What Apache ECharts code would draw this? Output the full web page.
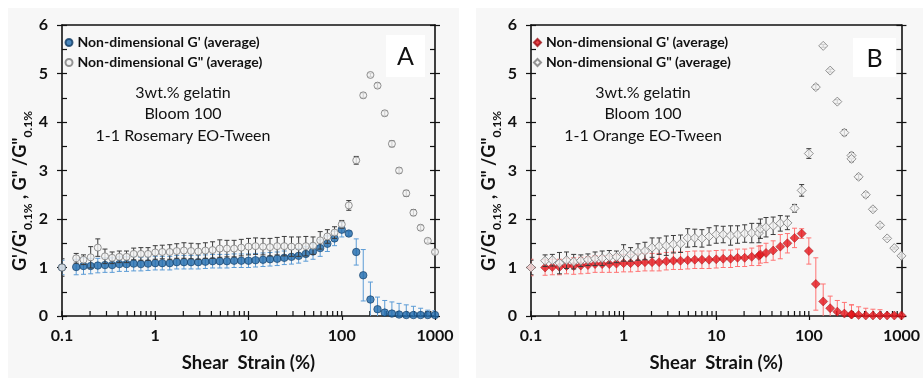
<!DOCTYPE html>
<html><head><meta charset="utf-8">
<script src="https://cdn.jsdelivr.net/npm/echarts@6/dist/echarts.min.js"></script>
<style>html,body{margin:0;padding:0;background:#fff}#c{width:923px;height:378px}</style>
</head><body><div id="c"></div>
<script>
// ---------- data ----------
const strainA = [0.1, 0.142, 0.170, 0.203, 0.242, 0.289, 0.345, 0.412, 0.492, 0.587, 0.701, 0.837, 1.0, 1.19, 1.43, 1.70, 2.03, 2.42, 2.89, 3.45, 4.12, 4.92, 5.87, 7.01, 8.37, 10, 11.9, 14.3, 17.0, 20.3, 24.2, 28.9, 34.5, 41.2, 49.2, 58.7, 70.1, 83.7, 100, 119, 143, 170, 203, 242, 289, 345, 412, 492, 587, 701, 837, 1000];
const gpA = [1.00, 1.01, 1.03, 1.03, 1.04, 1.05, 1.05, 1.07, 1.07, 1.08, 1.07, 1.08, 1.09, 1.09, 1.09, 1.11, 1.11, 1.11, 1.11, 1.12, 1.13, 1.13, 1.13, 1.14, 1.14, 1.14, 1.15, 1.16, 1.17, 1.18, 1.20, 1.22, 1.24, 1.28, 1.33, 1.40, 1.49, 1.60, 1.78, 1.70, 1.32, 0.84, 0.34, 0.14, 0.07, 0.05, 0.03, 0.02, 0.02, 0.02, 0.02, 0.02];
const gpAerr = [0.15, 0.16, 0.17, 0.16, 0.15, 0.15, 0.15, 0.15, 0.15, 0.15, 0.14, 0.14, 0.14, 0.14, 0.14, 0.14, 0.14, 0.14, 0.14, 0.14, 0.14, 0.14, 0.14, 0.14, 0.14, 0.14, 0.14, 0.14, 0.14, 0.14, 0.14, 0.15, 0.15, 0.15, 0.16, 0.17, 0.16, 0.15, 0.15, 0.05, 0.27, 0.53, 0.36, 0.25, 0.25, 0.24, 0.23, 0.21, 0.18, 0.14, 0.10, 0.09];
const gppA = [1.00, 1.19, 1.16, 1.21, 1.41, 1.23, 1.20, 1.22, 1.22, 1.28, 1.28, 1.28, 1.31, 1.32, 1.32, 1.34, 1.35, 1.34, 1.33, 1.35, 1.36, 1.39, 1.39, 1.39, 1.41, 1.43, 1.44, 1.43, 1.42, 1.44, 1.44, 1.43, 1.43, 1.44, 1.45, 1.56, 1.64, 1.72, 1.89, 2.28, 3.21, 4.55, 4.97, 4.75, 4.18, 3.55, 3.00, 2.53, 2.13, 1.82, 1.55, 1.32];
const gppAerr = [0.18, 0.10, 0.10, 0.22, 0.18, 0.15, 0.12, 0.12, 0.12, 0.12, 0.13, 0.13, 0.14, 0.14, 0.15, 0.15, 0.16, 0.16, 0.16, 0.16, 0.17, 0.18, 0.17, 0.17, 0.17, 0.17, 0.17, 0.17, 0.18, 0.18, 0.20, 0.20, 0.20, 0.20, 0.18, 0.18, 0.14, 0.12, 0.08, 0.10, 0.08, 0.05, 0.04, 0.05, 0.05, 0.06, 0.05, 0.06, 0.06, 0.05, 0.04, 0.03];

const strainB = [0.1, 0.142, 0.170, 0.203, 0.242, 0.289, 0.345, 0.412, 0.492, 0.587, 0.701, 0.837, 1.0, 1.19, 1.43, 1.70, 2.03, 2.42, 2.89, 3.45, 4.12, 4.92, 5.87, 7.01, 8.37, 10, 11.9, 14.3, 17.0, 20.3, 24.2, 28.9, 30.0, 34.5, 41.2, 49.2, 58.7, 70.1, 83.7, 100, 119, 143, 170, 203, 242, 289, 289, 345, 412, 492, 587, 701, 837, 1000];
const gpB = [1.00, 1.00, 1.01, 1.01, 1.03, 1.03, 1.04, 1.05, 1.07, 1.07, 1.07, 1.08, 1.09, 1.09, 1.10, 1.11, 1.11, 1.11, 1.13, 1.14, 1.14, 1.15, 1.16, 1.16, 1.16, 1.17, 1.18, 1.18, 1.20, 1.20, 1.22, 1.24, 1.27, 1.30, 1.35, 1.43, 1.50, 1.61, 1.70, 1.34, 0.66, 0.30, 0.16, 0.09, 0.05, 0.03, 0.03, 0.02, 0.01, 0.01, 0.01, 0.01, 0.01, 0.01];
const gpBerr = [0.17, 0.16, 0.16, 0.16, 0.16, 0.17, 0.17, 0.17, 0.17, 0.17, 0.17, 0.18, 0.18, 0.18, 0.18, 0.18, 0.18, 0.18, 0.18, 0.18, 0.18, 0.18, 0.18, 0.18, 0.18, 0.18, 0.18, 0.18, 0.18, 0.18, 0.18, 0.20, 0.18, 0.20, 0.20, 0.25, 0.20, 0.20, 0.10, 0.27, 0.54, 0.36, 0.25, 0.23, 0.23, 0.20, 0.20, 0.17, 0.15, 0.13, 0.12, 0.04, 0.03, 0.02];
const gppB = [1.00, 1.14, 1.15, 1.09, 1.15, 1.12, 1.14, 1.16, 1.18, 1.19, 1.22, 1.22, 1.30, 1.27, 1.32, 1.34, 1.41, 1.44, 1.45, 1.48, 1.49, 1.61, 1.61, 1.60, 1.64, 1.68, 1.68, 1.66, 1.68, 1.70, 1.71, 1.71, 1.80, 1.83, 1.86, 1.91, 1.92, 2.22, 2.59, 3.35, 4.72, 5.57, 5.06, 4.42, 3.78, 3.31, 3.24, 2.87, 2.50, 2.20, 1.87, 1.60, 1.40, 1.24];
const gppBerr = [0.15, 0.12, 0.12, 0.22, 0.17, 0.15, 0.12, 0.12, 0.14, 0.15, 0.13, 0.12, 0.17, 0.14, 0.17, 0.18, 0.20, 0.17, 0.20, 0.18, 0.18, 0.19, 0.18, 0.18, 0.18, 0.18, 0.17, 0.20, 0.18, 0.18, 0.20, 0.20, 0.20, 0.20, 0.18, 0.16, 0.14, 0.08, 0.12, 0.10, 0.05, 0.03, 0.03, 0.04, 0.06, 0.06, 0.06, 0.05, 0.05, 0.04, 0.04, 0.02, 0.02, 0.02];

const xTickLabels = ['0.1', '1', '10', '100', '1000'];
const xTickValues = [0.1,0.2,0.3,0.4,0.5,0.6,0.7,0.8,0.9,1,2,3,4,5,6,7,8,9,10,20,30,40,50,60,70,80,90,100,200,300,400,500,600,700,800,900,1000];
const legendLabels = ["Non-dimensional G' (average)", 'Non-dimensional G" (average)'];
const noteA = ['3wt.% gelatin', 'Bloom 100', '1-1 Rosemary EO-Tween'];
const noteB = ['3wt.% gelatin', 'Bloom 100', '1-1 Orange EO-Tween'];
const panelLetters = ['A', 'B'];
const xTitle = 'Shear  Strain (%)';

// ---------- chart ----------
const FONT = 'Lato, "Liberation Sans", sans-serif';
const chart = echarts.init(document.getElementById('c'));

function makeErr(color) {
  return function (params, api) {
    const x = api.value(0), y = api.value(1), e = api.value(2);
    const p1 = api.coord([x, y + e]), p2 = api.coord([x, y - e]);
    const h = 2.5, st = { stroke: color, lineWidth: 1 };
    return { type: 'group', children: [
      { type: 'line', shape: { x1: p1[0], y1: p1[1], x2: p2[0], y2: p2[1] }, style: st },
      { type: 'line', shape: { x1: p1[0] - h, y1: p1[1], x2: p1[0] + h, y2: p1[1] }, style: st },
      { type: 'line', shape: { x1: p2[0] - h, y1: p2[1], x2: p2[0] + h, y2: p2[1] }, style: st }
    ]};
  };
}
function tickRender(params, api) {
  const p = api.coord([api.value(0), 0]);
  return { type: 'line', shape: { x1: p[0], y1: p[1], x2: p[0], y2: p[1] - 5 },
    style: { stroke: '#111', lineWidth: 1.2 } };
}
const pts = (xs, ys) => xs.map((x, i) => [x, ys[i]]);
const errPts = (xs, ys, es) => xs.map((x, i) => [x, ys[i], es[i]]);

const grids = [
  { left: 62, top: 25, width: 373, height: 297 },
  { left: 531, top: 25, width: 375, height: 297 }
];
const axisLineStyle = { color: '#111', width: 1.6 };
const xAxes = [], yAxes = [];
grids.forEach((g, gi) => {
  xAxes.push({ gridIndex: gi, type: 'log', logBase: 10, min: 0.1, max: 1000, position: 'bottom',
    name: xTitle, nameLocation: 'middle', nameGap: 38,
    nameTextStyle: { fontFamily: FONT, fontWeight: 'bold', fontSize: 18.5, color: '#111' },
    axisLine: { onZero: false, lineStyle: axisLineStyle },
    axisTick: { show: true, inside: false, length: 4, lineStyle: { color: '#111', width: 1.2 } },
    axisLabel: { margin: 12, fontFamily: FONT, fontWeight: 'bold', fontSize: 16, color: '#111',
      formatter: (v, i) => xTickLabels[i] },
    splitLine: { show: false }, minorTick: { show: false } });
  xAxes.push({ gridIndex: gi, type: 'log', logBase: 10, min: 0.1, max: 1000, position: 'top',
    axisLine: { onZero: false, lineStyle: axisLineStyle }, axisTick: { show: false },
    axisLabel: { show: false }, splitLine: { show: false } });

  yAxes.push({ gridIndex: gi, type: 'value', min: 0, max: 6, interval: 1, position: 'left',
    axisLine: { onZero: false, lineStyle: axisLineStyle },
    axisTick: { show: true, inside: false, length: 5, lineStyle: { color: '#111', width: 1.2 } },
    axisLabel: { margin: 14, fontFamily: FONT, fontWeight: 'bold', fontSize: 16, color: '#111' },
    splitLine: { show: false } });
  yAxes.push({ gridIndex: gi, type: 'value', min: 0, max: 6, interval: 0.5, position: 'left',
    axisLine: { show: false, onZero: false },
    axisTick: { show: true, inside: true, length: 5, lineStyle: { color: '#111', width: 1.2 } },
    axisLabel: { show: false }, splitLine: { show: false } });
  yAxes.push({ gridIndex: gi, type: 'value', min: 0, max: 6, interval: 0.5, position: 'right',
    axisLine: { show: true, onZero: false, lineStyle: axisLineStyle },
    axisTick: { show: true, inside: true, length: 5, lineStyle: { color: '#111', width: 1.2 } },
    axisLabel: { show: false }, splitLine: { show: false } });
  yAxes.push({ gridIndex: gi, type: 'value', min: 0, max: 6, interval: 1, position: 'right',
    axisLine: { show: false, onZero: false },
    axisTick: { show: true, inside: false, length: 5, lineStyle: { color: '#111', width: 1.2 } },
    axisLabel: { show: false }, splitLine: { show: false } });
});

const labelMap = { A1: legendLabels[0], A2: legendLabels[1], B1: legendLabels[0], B2: legendLabels[1] };

const series = [];
[[0, 0], [2, 4]].forEach(([xi, yi]) => {
  series.push({ type: 'custom', name: 'ticks' + xi, xAxisIndex: xi, yAxisIndex: yi, z: 1, silent: true,
    renderItem: tickRender, data: xTickValues.map(v => [v, 0]), encode: { x: 0, y: 1 } });
});
series.push(
  { type: 'custom', name: 'eA1', xAxisIndex: 0, yAxisIndex: 0, clip: true, z: 2,
    renderItem: makeErr('#5b9bd5'), data: errPts(strainA, gpA, gpAerr), encode: { x: 0, y: 1 } },
  { type: 'scatter', name: 'A1', xAxisIndex: 0, yAxisIndex: 0, symbol: 'circle', symbolSize: 7.5, z: 3,
    itemStyle: { color: '#1f6aad', borderColor: '#0f3a63', borderWidth: 0.8 }, data: pts(strainA, gpA) },
  { type: 'custom', name: 'eA2', xAxisIndex: 0, yAxisIndex: 0, clip: true, z: 4,
    renderItem: makeErr('#3a3a3a'), data: errPts(strainA, gppA, gppAerr), encode: { x: 0, y: 1 } },
  { type: 'scatter', name: 'A2', xAxisIndex: 0, yAxisIndex: 0, symbol: 'circle', symbolSize: 7, z: 5,
    itemStyle: { color: '#f3f3f3', borderColor: '#7a7a7a', borderWidth: 1 }, data: pts(strainA, gppA) },

  { type: 'custom', name: 'eB1', xAxisIndex: 2, yAxisIndex: 4, clip: true, z: 2,
    renderItem: makeErr('#ff7373'), data: errPts(strainB, gpB, gpBerr), encode: { x: 0, y: 1 } },
  { type: 'scatter', name: 'B1', xAxisIndex: 2, yAxisIndex: 4, symbol: 'diamond', symbolSize: 9, z: 3,
    itemStyle: { color: '#e3151c', borderColor: '#9e0f14', borderWidth: 0.6 }, data: pts(strainB, gpB) },
  { type: 'custom', name: 'eB2', xAxisIndex: 2, yAxisIndex: 4, clip: true, z: 4,
    renderItem: makeErr('#3a3a3a'), data: errPts(strainB, gppB, gppBerr), encode: { x: 0, y: 1 } },
  { type: 'scatter', name: 'B2', xAxisIndex: 2, yAxisIndex: 4, symbol: 'diamond', symbolSize: 9, z: 5,
    itemStyle: { color: '#f3f3f3', borderColor: '#7a7a7a', borderWidth: 1 }, data: pts(strainB, gppB) }
);

const legendBase = { orient: 'vertical', padding: 0, itemWidth: 7, itemHeight: 7, itemGap: 5,
  selectedMode: false, formatter: n => labelMap[n],
  textStyle: { fontFamily: FONT, fontWeight: 'bold', fontSize: 14, color: '#111', lineHeight: 15 } };

function yTitle(x) {
  return { type: 'text', x: x, y: 191, rotation: Math.PI / 2, z: 50,
    style: { text: "G'/G'{s|0.1%} , G\" /G\"{s|0.1%}", fontFamily: FONT, fontWeight: 'bold', fontSize: 18,
      fill: '#111', align: 'center', verticalAlign: 'middle', lineHeight: 28,
      rich: { s: { fontFamily: FONT, fontWeight: 'bold', fontSize: 12, fill: '#111', verticalAlign: 'bottom', lineHeight: 28 } } } };
}
function note(x, lines) {
  return { type: 'text', x: x, y: 82, z: 50,
    style: { text: lines.join('\n'), fontFamily: FONT, fontSize: 16, fill: '#111', align: 'center', verticalAlign: 'top', lineHeight: 21.5 } };
}
function letterBox(x, y, w, h, t) {
  return [
    { type: 'rect', shape: { x: x, y: y, width: w, height: h }, style: { fill: '#ffffff' }, z: 40 },
    { type: 'text', x: x + w / 2, y: y + h / 2 + 1, z: 41,
      style: { text: t, fontFamily: FONT, fontSize: 25, fill: '#111', align: 'center', verticalAlign: 'middle' } }
  ];
}

chart.setOption({
  animation: false,
  backgroundColor: '#ffffff',
  grid: grids,
  xAxis: xAxes,
  yAxis: yAxes,
  series: series,
  legend: [
    Object.assign({}, legendBase, { data: [{ name: 'A1', icon: 'circle' }, { name: 'A2', icon: 'circle' }], left: 64.5, top: 35 }),
    Object.assign({}, legendBase, { data: [{ name: 'B1', icon: 'diamond' }, { name: 'B2', icon: 'diamond' }], left: 533, top: 35 })
  ],
  graphic: { elements: [
    { type: 'rect', shape: { x: 8, y: 8, width: 451, height: 370 }, style: { fill: '#f7f7f7' }, z: -100 },
    { type: 'rect', shape: { x: 476, y: 8, width: 447, height: 370 }, style: { fill: '#f7f7f7' }, z: -100 },
    yTitle(20), yTitle(489),
    note(183, noteA), note(643, noteB),
    ...letterBox(386, 35, 39, 42, panelLetters[0]),
    ...letterBox(853, 38, 43, 39, panelLetters[1])
  ] }
});
</script>
</body></html>
